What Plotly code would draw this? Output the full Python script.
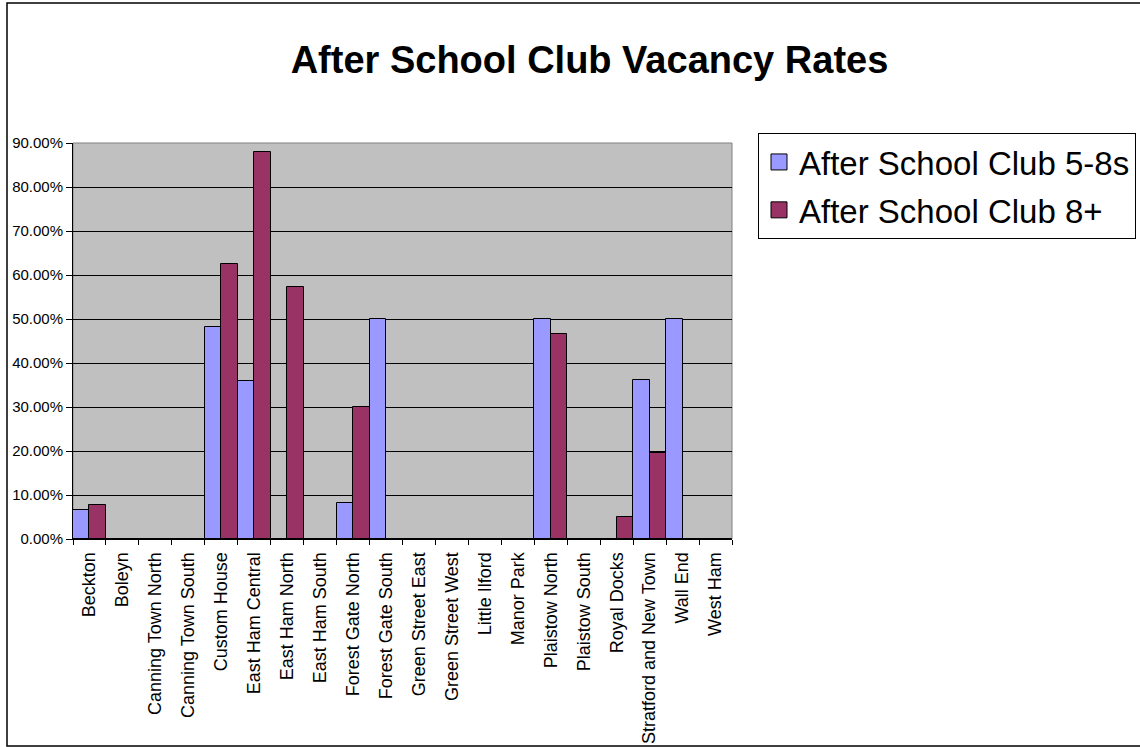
import plotly.graph_objects as go

# data
wards = [
    "Beckton", "Boleyn", "Canning Town North", "Canning Town South", "Custom House",
    "East Ham Central", "East Ham North", "East Ham South", "Forest Gate North",
    "Forest Gate South", "Green Street East", "Green Street West", "Little Ilford",
    "Manor Park", "Plaistow North", "Plaistow South", "Royal Docks",
    "Stratford and New Town", "Wall End", "West Ham",
]
club_5_8 = [0.066, 0, 0, 0, 0.482, 0.358, 0, 0, 0.081, 0.50,
            0, 0, 0, 0, 0.50, 0, 0, 0.362, 0.50, 0]
club_8_plus = [0.078, 0, 0, 0, 0.624, 0.879, 0.573, 0, 0.30, 0,
               0, 0, 0, 0, 0.466, 0, 0.049, 0.195, 0, 0]
series_names = ["After School Club 5-8s", "After School Club 8+"]
series_colors = ["#9999FF", "#993366"]
y_ticks = [i / 10 for i in range(10)]

W, H = 1140, 747
L, R, T, B = 73, 408, 143, 208
pw, ph = W - L - R, H - T - B

font = "Arial, Liberation Sans, sans-serif"

fig = go.Figure()
for name, vals, col in zip(series_names, [club_5_8, club_8_plus], series_colors):
    fig.add_trace(go.Bar(x=wards, y=vals, name=name, showlegend=False,
                         marker=dict(color=col, line=dict(color="black", width=1))))
    # legend-only entry so the swatch can be a bigger square
    fig.add_trace(go.Scatter(x=[None], y=[None], mode="markers", name=name,
                             legendgroup=name,
                             marker=dict(symbol="square", size=18, color=col,
                                         line=dict(color="black", width=1))))

fig.update_xaxes(
    type="category", tickangle=-90, tickson="boundaries", ticks="outside",
    ticklen=5, tickcolor="black", showline=True, linecolor="black", linewidth=1,
    showgrid=False, ticklabelstandoff=5,
    tickfont=dict(family=font, size=18, color="black"),
)
fig.update_yaxes(
    range=[0, 0.9], tickvals=y_ticks + [0.9], tickformat=".2%", ticks="outside",
    ticklen=6, tickcolor="black", showline=True, linecolor="black", linewidth=1,
    showgrid=True, gridcolor="black", gridwidth=1, zeroline=False,
    tickfont=dict(family=font, size=15, color="black"),
)

fig.update_layout(
    width=W, height=H,
    margin=dict(l=L, r=R, t=T, b=B, autoexpand=False),
    plot_bgcolor="#C0C0C0", paper_bgcolor="white",
    barmode="group", bargap=0, bargroupgap=0,
    title=dict(text="<b>After School Club Vacancy Rates</b>", x=589.5 / W, xanchor="center",
               y=1 - 60 / H, yanchor="middle", xref="container", yref="container",
               font=dict(family=font, size=38, color="black")),
    legend=dict(x=(758 - L) / pw, y=(539 - 133) / ph, xanchor="left", yanchor="top",
                bgcolor="white", bordercolor="black", borderwidth=1,
                traceorder="grouped", tracegroupgap=2,
                font=dict(family=font, size=33, color="black")),
    shapes=[
        # gray border of the plot area
        dict(type="rect", xref="paper", yref="paper", x0=0, x1=1, y0=0, y1=1,
             line=dict(color="#808080", width=1), layer="below"),
        # outer frame of the chart (right side falls outside the picture)
        dict(type="rect", xref="paper", yref="paper",
             x0=-(L - 7) / pw, x1=(W - L + 20) / pw,
             y0=-(B - 1) / ph, y1=1 + (T - 3) / ph,
             line=dict(color="black", width=1.5)),
    ],
)

fig.write_html("out.html", config={"displayModeBar": False},
               post_script="document.body.style.margin='0';")
